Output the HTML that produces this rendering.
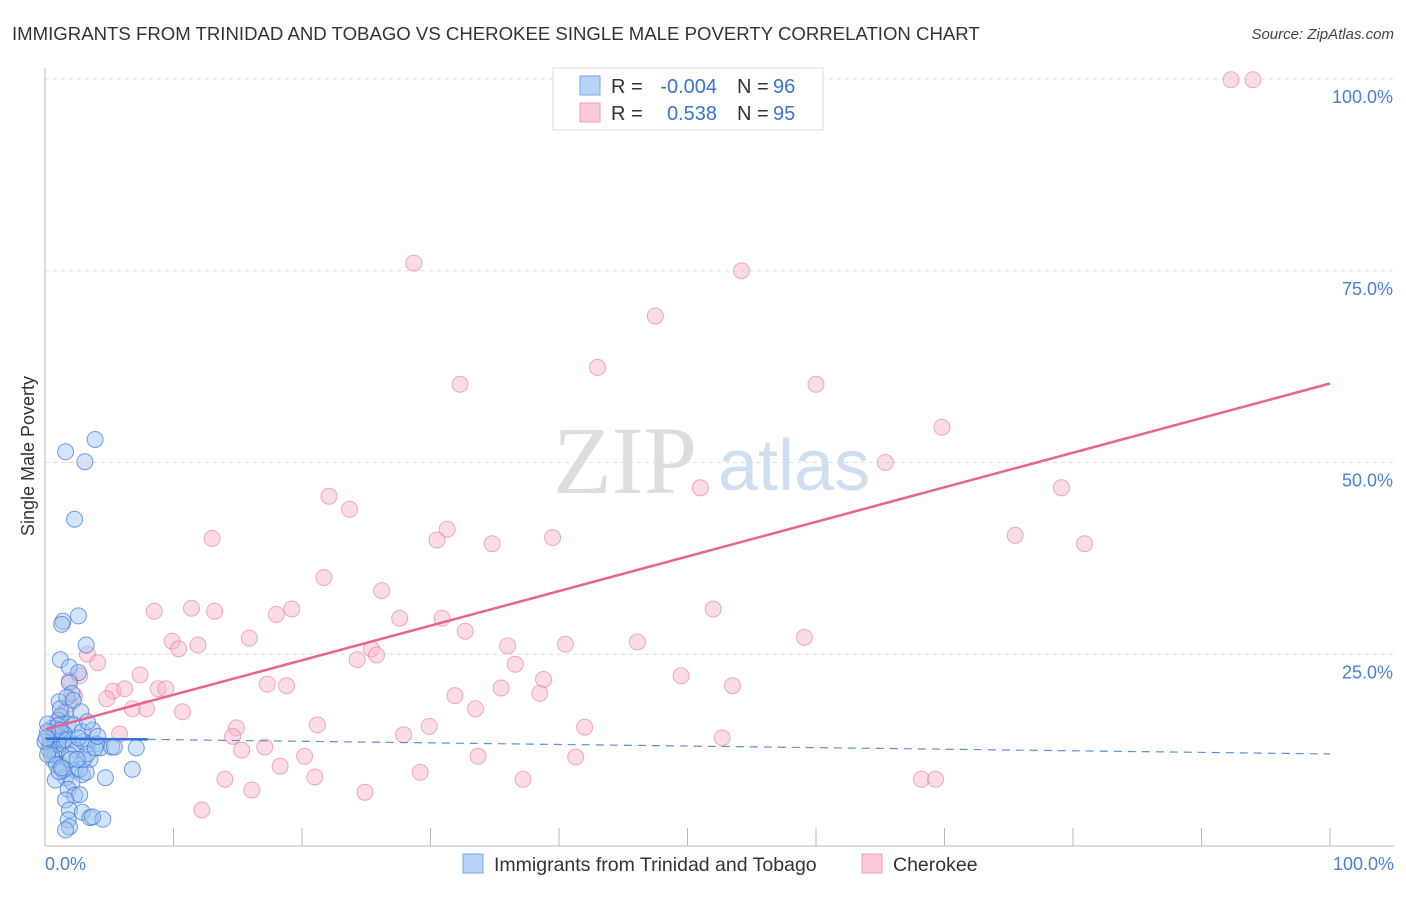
<!DOCTYPE html>
<html><head><meta charset="utf-8"><style>
body{margin:0;background:#fff;font-family:"Liberation Sans",sans-serif}
svg text{font-family:"Liberation Sans",sans-serif}
</style></head><body>
<svg id="c" width="1406" height="892">
<text x="12" y="40" font-size="18.6" fill="#333">IMMIGRANTS FROM TRINIDAD AND TOBAGO VS CHEROKEE SINGLE MALE POVERTY CORRELATION CHART</text>
<text x="1394" y="39" font-size="15" fill="#444" font-style="italic" text-anchor="end">Source: ZipAtlas.com</text>
<text x="34" y="456" font-size="18" fill="#333" text-anchor="middle" transform="rotate(-90 34 456)">Single Male Poverty</text>
<g id="grid"></g>
<text x="553" y="493" font-size="96" fill="#ddd" style="font-family:'Liberation Serif',serif">ZIP</text>
<text x="718" y="490" font-size="72" fill="#cfdff2">atlas</text>
<g id="pts"></g>
<g id="lines"></g>
<line x1="45" y1="68" x2="45" y2="846" stroke="#bbb"/>
<line x1="45" y1="846" x2="1394" y2="846" stroke="#bbb"/>
<text x="45" y="870" font-size="18" fill="#4a7fd4">0.0%</text>
<text x="1394" y="870" font-size="18" fill="#4a7fd4" text-anchor="end">100.0%</text>
<g>
<rect x="553" y="68" width="270" height="62" fill="#fff" stroke="#ddd"/>
<rect x="580" y="76" width="20" height="19" fill="#b8d3f5" stroke="#7aa7e6"/>
<rect x="580" y="103" width="20" height="19" fill="#fbc9d7" stroke="#ef9fb6"/>
<text x="611" y="93" font-size="20" fill="#333">R = </text><text x="717" y="93" font-size="20" fill="#3a73d0" text-anchor="end">-0.004</text>
<text x="737" y="93" font-size="20" fill="#333">N = </text><text x="773" y="93" font-size="20" fill="#3a73d0">96</text>
<text x="611" y="120" font-size="20" fill="#333">R = </text><text x="717" y="120" font-size="20" fill="#3a73d0" text-anchor="end">0.538</text>
<text x="737" y="120" font-size="20" fill="#333">N = </text><text x="773" y="120" font-size="20" fill="#3a73d0">95</text>
</g>
<g>
<rect x="463" y="854" width="20" height="19" fill="#b8d3f5" stroke="#7aa7e6"/>
<text x="494" y="871" font-size="19.5" fill="#333">Immigrants from Trinidad and Tobago</text>
<rect x="862" y="854" width="20" height="19" fill="#fbc9d7" stroke="#ef9fb6"/>
<text x="893" y="871" font-size="19.5" fill="#333">Cherokee</text>
</g>
</svg>
<script>
const yTicks=[25,50,75,100];
const yTickLabels=["25.0%","50.0%","75.0%","100.0%"];
const xTicks=[10,20,30,40,50,60,70,80,90,100];
const pinkX=[92.3,94,28.7,54.2,47.5,43,32.3,60,69.8,65.4,51,79.1,22.1,23.7,31.3,30.5,34.8,39.5,13,75.5,80.9,21.7,26.2,8.5,11.4,13.2,19.2,18,27.6,30.9,52,32.7,15.9,9.9,10.4,11.9,25.4,25.8,36,40.5,46.1,59.1,24.3,36.6,3.3,4.1,2.7,7.4,49.5,38.8,17.3,18.8,5.3,6.2,8.8,9.4,35.5,31.9,53.5,38.5,4.8,6.8,7.9,10.7,33.5,1.9,21.2,14.9,29.9,42,14.6,27.9,52.7,5.8,17.1,15.3,20.2,33.7,41.3,18.3,29.2,21,14,37.2,68.2,69.3,16.1,24.9,12.2,1.3,0.8,0.4,1.2,2.3,1.9];
const pinkY=[99.9,99.9,76,75,69.1,62.4,60.2,60.2,54.6,50,46.7,46.7,45.6,43.9,41.3,39.9,39.4,40.2,40.1,40.5,39.4,35,33.3,30.6,31,30.6,30.9,30.2,29.7,29.7,30.9,28,27.1,26.7,25.7,26.2,25.7,24.9,26.1,26.3,26.6,27.2,24.3,23.7,25,23.9,22.2,22.3,22.2,21.7,21.1,20.9,20.2,20.5,20.5,20.5,20.6,19.6,20.9,19.9,19.2,17.9,17.9,17.5,17.9,18.5,15.8,15.4,15.6,15.5,14.3,14.5,14.1,14.6,12.9,12.5,11.7,11.7,11.6,10.4,9.6,9,8.7,8.7,8.7,8.7,7.3,7,4.7,17.1,15.1,13.8,15.8,19.6,21.6];
const blueX=[3.9,1.6,3.1,2.3,2.6,1.4,1.3,3.2,1.2,1.9,2.6,1.9,2.1,1.1,1.6,1.2,1,1.8,2.3,2.9,3.7,4,3.3,1.5,0.8,0.4,0.5,0.8,1.2,2.3,2.9,1.6,2.1,0.8,4.3,5.2,7.1,5.4,6.8,4.7,3.5,2.7,3.2,1.8,2.3,2.7,1.6,1.9,2.9,3.5,4.5,3.7,1.8,1.9,1.6,0.8,1,1.2,0.5,0.2,0.4,0.6,0.9,1.3,1.5,0.7,0.3,0.5,1,1.2,1.7,2.2,2.4,3,2.6,0.2,0,0.1,0.2,0.9,1.4,3,3.3,3.9,4.1,1.9,2.0,2.5,1.1,1.3,1.2,1.7,2.2,2.8,3.3];
const blueY=[53,51.4,50.1,42.6,30,29.3,28.9,26.2,24.3,23.3,22.6,21.3,19.9,18.8,17.5,16.9,16.4,15.9,15.8,14.9,15.1,13.3,13.2,14.6,15.3,13.8,12.8,11.9,10.6,9.9,9.3,8.9,8.3,8.6,12.8,12.9,12.8,12.9,10,8.9,11.3,10,9.6,7.4,6.6,6.7,6,4.7,4.4,3.7,3.5,3.8,3.4,2.5,2.1,13.2,12.6,14.2,15.3,15.9,13.3,11.3,13.9,13.3,13.7,14.6,12.6,11.9,15.7,15.1,13.8,13.2,12.5,13.6,14.1,14.9,13.6,14.1,11.9,10.6,9.9,11.3,12,12.8,14.3,11.9,11.3,11.3,9.7,10.2,17.9,19.4,19,17.5,16.2];
const pinkLine=[0,15.2,100,60.3];
const blueLine=[0,14,8,13.9,100,12];
const X=v=>45+v*12.85, Y=v=>846-v*7.67;
const NS="http://www.w3.org/2000/svg";
function mk(tag,attrs,parent){const e=document.createElementNS(NS,tag);for(const k in attrs)e.setAttribute(k,attrs[k]);parent.appendChild(e);return e;}
const grid=document.getElementById('grid');
yTicks.forEach((t,i)=>{
 const l=mk('line',{x1:45,x2:1394,y1:Y(t),y2:Y(t),stroke:'#ddd','stroke-dasharray':'4 4'},grid);
 
 
 const tx=mk('text',{x:1393,y:Y(t)+24,'font-size':18,fill:'#4a7fd4','text-anchor':'end'},grid);
 tx.textContent=yTickLabels[i];
 
 
});
xTicks.forEach(t=>{
 const l=mk('line',{x1:X(t),x2:X(t),y1:828,y2:846,stroke:'#bbb'},grid);
 
 
});
const pts=document.getElementById('pts');
pinkX.forEach((v,i)=>{
 const c=mk('circle',{cx:X(v),cy:Y(pinkY[i]),r:8,fill:'rgba(248,180,200,0.45)',stroke:'rgba(232,120,155,0.6)'},pts);
 
 
});
blueX.forEach((v,i)=>{
 const c=mk('circle',{cx:X(v),cy:Y(blueY[i]),r:8,fill:'rgba(160,195,240,0.45)',stroke:'rgba(60,120,215,0.7)'},pts);
 
 
});
const lines=document.getElementById('lines');
const pl=mk('line',{x1:X(pinkLine[0]),y1:Y(pinkLine[1]),x2:X(pinkLine[2]),y2:Y(pinkLine[3]),stroke:'#e8648f','stroke-width':2.5},lines);


const bl=mk('line',{x1:X(blueLine[0]),y1:Y(blueLine[1]),x2:X(blueLine[2]),y2:Y(blueLine[3]),stroke:'#2f6fd6','stroke-width':2.5},lines);


const bd=mk('line',{x1:X(blueLine[2]),y1:Y(blueLine[3]),x2:X(blueLine[4]),y2:Y(blueLine[5]),stroke:'#5b8fdc','stroke-width':1.2,'stroke-dasharray':'8 6'},lines);


</script>
</body></html>
